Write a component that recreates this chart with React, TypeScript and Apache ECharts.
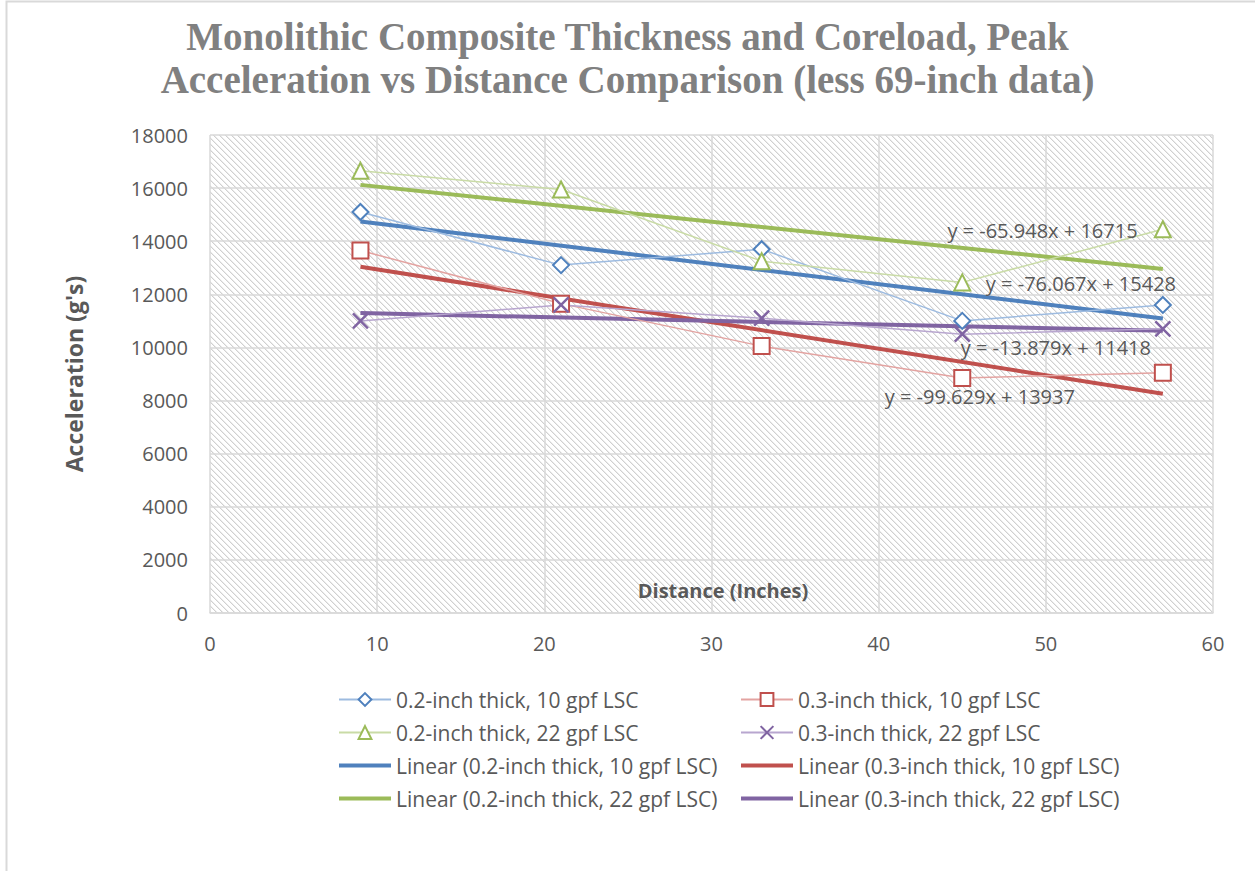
import React, { useEffect, useRef } from "react";
import * as echarts from "echarts";

const TITLE = "Monolithic Composite Thickness and Coreload, Peak\nAcceleration vs Distance Comparison (less 69-inch data)";
const X_VALUES = [9, 21, 33, 45, 57];
const SERIES_NAMES = [
  "0.2-inch thick, 10 gpf LSC",
  "0.3-inch thick, 10 gpf LSC",
  "0.2-inch thick, 22 gpf LSC",
  "0.3-inch thick, 22 gpf LSC",
];
const THIN_10 = [15100, 13100, 13700, 11000, 11600];
const THICK_10 = [13650, 11650, 10050, 8850, 9050];
const THIN_22 = [16650, 15950, 13250, 12450, 14450];
const THICK_22 = [11000, 11600, 11100, 10500, 10700];
const SERIES_VALUES = [THIN_10, THICK_10, THIN_22, THICK_22];
// trendline equations shown in the chart (y = m x + b)
const TREND_SLOPES = [-76.067, -99.629, -65.948, -13.879];
const TREND_INTERCEPTS = [15428, 13937, 16715, 11418];
const TREND_LABELS = [
  "y = -76.067x + 15428",
  "y = -99.629x + 13937",
  "y = -65.948x + 16715",
  "y = -13.879x + 11418",
];
// label anchor points in data space
const TREND_LABEL_POS = [
  [52.1, 12390],
  [46.05, 8170],
  [49.8, 14420],
  [50.6, 10015],
];
const Y_TICKS = { min: 0, max: 18000, interval: 2000 };
const X_TICKS = { min: 0, max: 60, interval: 10 };
const X_TITLE = "Distance (Inches)";
const Y_TITLE = "Acceleration (g's)";

const COLORS = ["#4F81BD", "#C0504D", "#9BBB59", "#8064A2"];
const LIGHT = ["#9dbbe0", "#e3a3a1", "#c9dba6", "#b8a6cf"];
const SYMBOLS = ["emptyDiamond", "emptyRect", "emptyTriangle", "path://M0,0L10,10M10,0L0,10"];
const FONT = "Open Sans";
const TXT = "#595959";

export default function App() {
  const ref = useRef<HTMLDivElement>(null);
  useEffect(() => {
    if (!ref.current) return;
    const chart = echarts.init(ref.current, null, { renderer: "svg" });

    const P = 6;
    const cv = document.createElement("canvas");
    cv.width = P;
    cv.height = P;
    const ctx = cv.getContext("2d")!;
    ctx.fillStyle = "#ffffff";
    ctx.fillRect(0, 0, P, P);
    for (let i = 0; i < P; i++) {
      ctx.fillStyle = "#d0d0d0";
      ctx.fillRect(i, i, 1, 1);
      ctx.fillStyle = "#ececec";
      ctx.fillRect((i + 1) % P, i, 1, 1);
    }

    const trendName = (n: string) => `Linear (${n})`;

    const dataSeries = SERIES_NAMES.map((name, i) => ({
      name,
      type: "line",
      data: X_VALUES.map((x, j) => [x, SERIES_VALUES[i][j]]),
      symbol: SYMBOLS[i],
      symbolSize: i === 3 ? 15 : 16,
      lineStyle: { color: LIGHT[i], width: 1.5 },
      itemStyle: { color: COLORS[i], borderColor: COLORS[i], borderWidth: 2.5 },
      z: 3,
    }));

    const trendSeries = SERIES_NAMES.map((name, i) => {
      const x0 = X_VALUES[0];
      const x1 = X_VALUES[X_VALUES.length - 1];
      return {
        name: trendName(name),
        type: "line",
        data: [
          [x0, TREND_SLOPES[i] * x0 + TREND_INTERCEPTS[i]],
          [x1, TREND_SLOPES[i] * x1 + TREND_INTERCEPTS[i]],
        ],
        symbol: "none",
        showSymbol: false,
        lineStyle: { color: COLORS[i], width: 4 },
        itemStyle: { color: COLORS[i] },
        z: 2,
        markPoint: {
          symbol: "circle",
          symbolSize: 1,
          itemStyle: { color: "rgba(0,0,0,0)" },
          label: {
            show: true,
            position: "inside",
            formatter: TREND_LABELS[i],
            color: TXT,
            fontFamily: FONT,
            fontSize: 20,
          },
          data: [{ coord: TREND_LABEL_POS[i] }],
        },
      };
    });

    const lineIcon = "path://M0,0H52V4H0Z";
    const legendCommon = {
      orient: "vertical",
      top: 684,
      itemWidth: 52,
      itemHeight: 16,
      itemGap: 12,
      textStyle: { color: TXT, fontFamily: FONT, fontSize: 21 },
      selectedMode: false,
    };

    chart.setOption({
      animation: false,
      backgroundColor: "#ffffff",
      title: {
        text: TITLE,
        left: "center",
        top: 10,
        textStyle: {
          fontFamily: "Liberation Serif",
          fontWeight: "bold",
          fontSize: 39,
          lineHeight: 43,
          color: "#808080",
        },
      },
      legend: [
        {
          ...legendCommon,
          left: 333,
          data: [
            SERIES_NAMES[0],
            SERIES_NAMES[2],
            { name: trendName(SERIES_NAMES[0]), icon: lineIcon },
            { name: trendName(SERIES_NAMES[2]), icon: lineIcon },
          ],
        },
        {
          ...legendCommon,
          left: 735,
          data: [
            SERIES_NAMES[1],
            SERIES_NAMES[3],
            { name: trendName(SERIES_NAMES[1]), icon: lineIcon },
            { name: trendName(SERIES_NAMES[3]), icon: lineIcon },
          ],
        },
      ],
      grid: {
        left: 210,
        top: 135,
        right: 42,
        bottom: 258,
        show: true,
        borderWidth: 0,
        backgroundColor: { image: cv, repeat: "repeat" },
      },
      xAxis: {
        type: "value",
        min: X_TICKS.min,
        max: X_TICKS.max,
        interval: X_TICKS.interval,
        axisLine: { show: true, lineStyle: { color: "#d9d9d9", width: 1.5 } },
        axisTick: { show: false },
        axisLabel: { color: TXT, fontFamily: FONT, fontSize: 20, margin: 20 },
        splitLine: { show: true, lineStyle: { color: "#d9d9d9", width: 1.5 } },
      },
      yAxis: {
        type: "value",
        min: Y_TICKS.min,
        max: Y_TICKS.max,
        interval: Y_TICKS.interval,
        name: Y_TITLE,
        nameLocation: "middle",
        nameGap: 125,
        nameTextStyle: { color: TXT, fontFamily: FONT, fontSize: 23, fontWeight: "bold" },
        axisLine: { show: false },
        axisTick: { show: false },
        axisLabel: {
          color: TXT,
          fontFamily: FONT,
          fontSize: 20,
          margin: 22,
          formatter: (v: number) => String(v),
        },
        splitLine: { show: true, lineStyle: { color: "#d9d9d9", width: 1.5 } },
      },
      graphic: [
        {
          type: "text",
          x: 723,
          y: 590,
          silent: true,
          z: 50,
          style: {
            text: X_TITLE,
            fill: TXT,
            font: `bold 20px "${FONT}"`,
            textAlign: "center",
            textVerticalAlign: "middle",
          },
        },
        {
          type: "rect",
          shape: { x: 6.5, y: 1.5, width: 1280, height: 900 },
          style: { fill: "none", stroke: "#d9d9d9", lineWidth: 2 },
          silent: true,
          z: 100,
        },
      ],
      series: [...dataSeries, ...trendSeries],
    });

    return () => chart.dispose();
  }, []);

  return (
    <div
      ref={ref}
      style={{ position: "absolute", left: 0, top: 0, width: 1255, height: 871 }}
    />
  );
}
